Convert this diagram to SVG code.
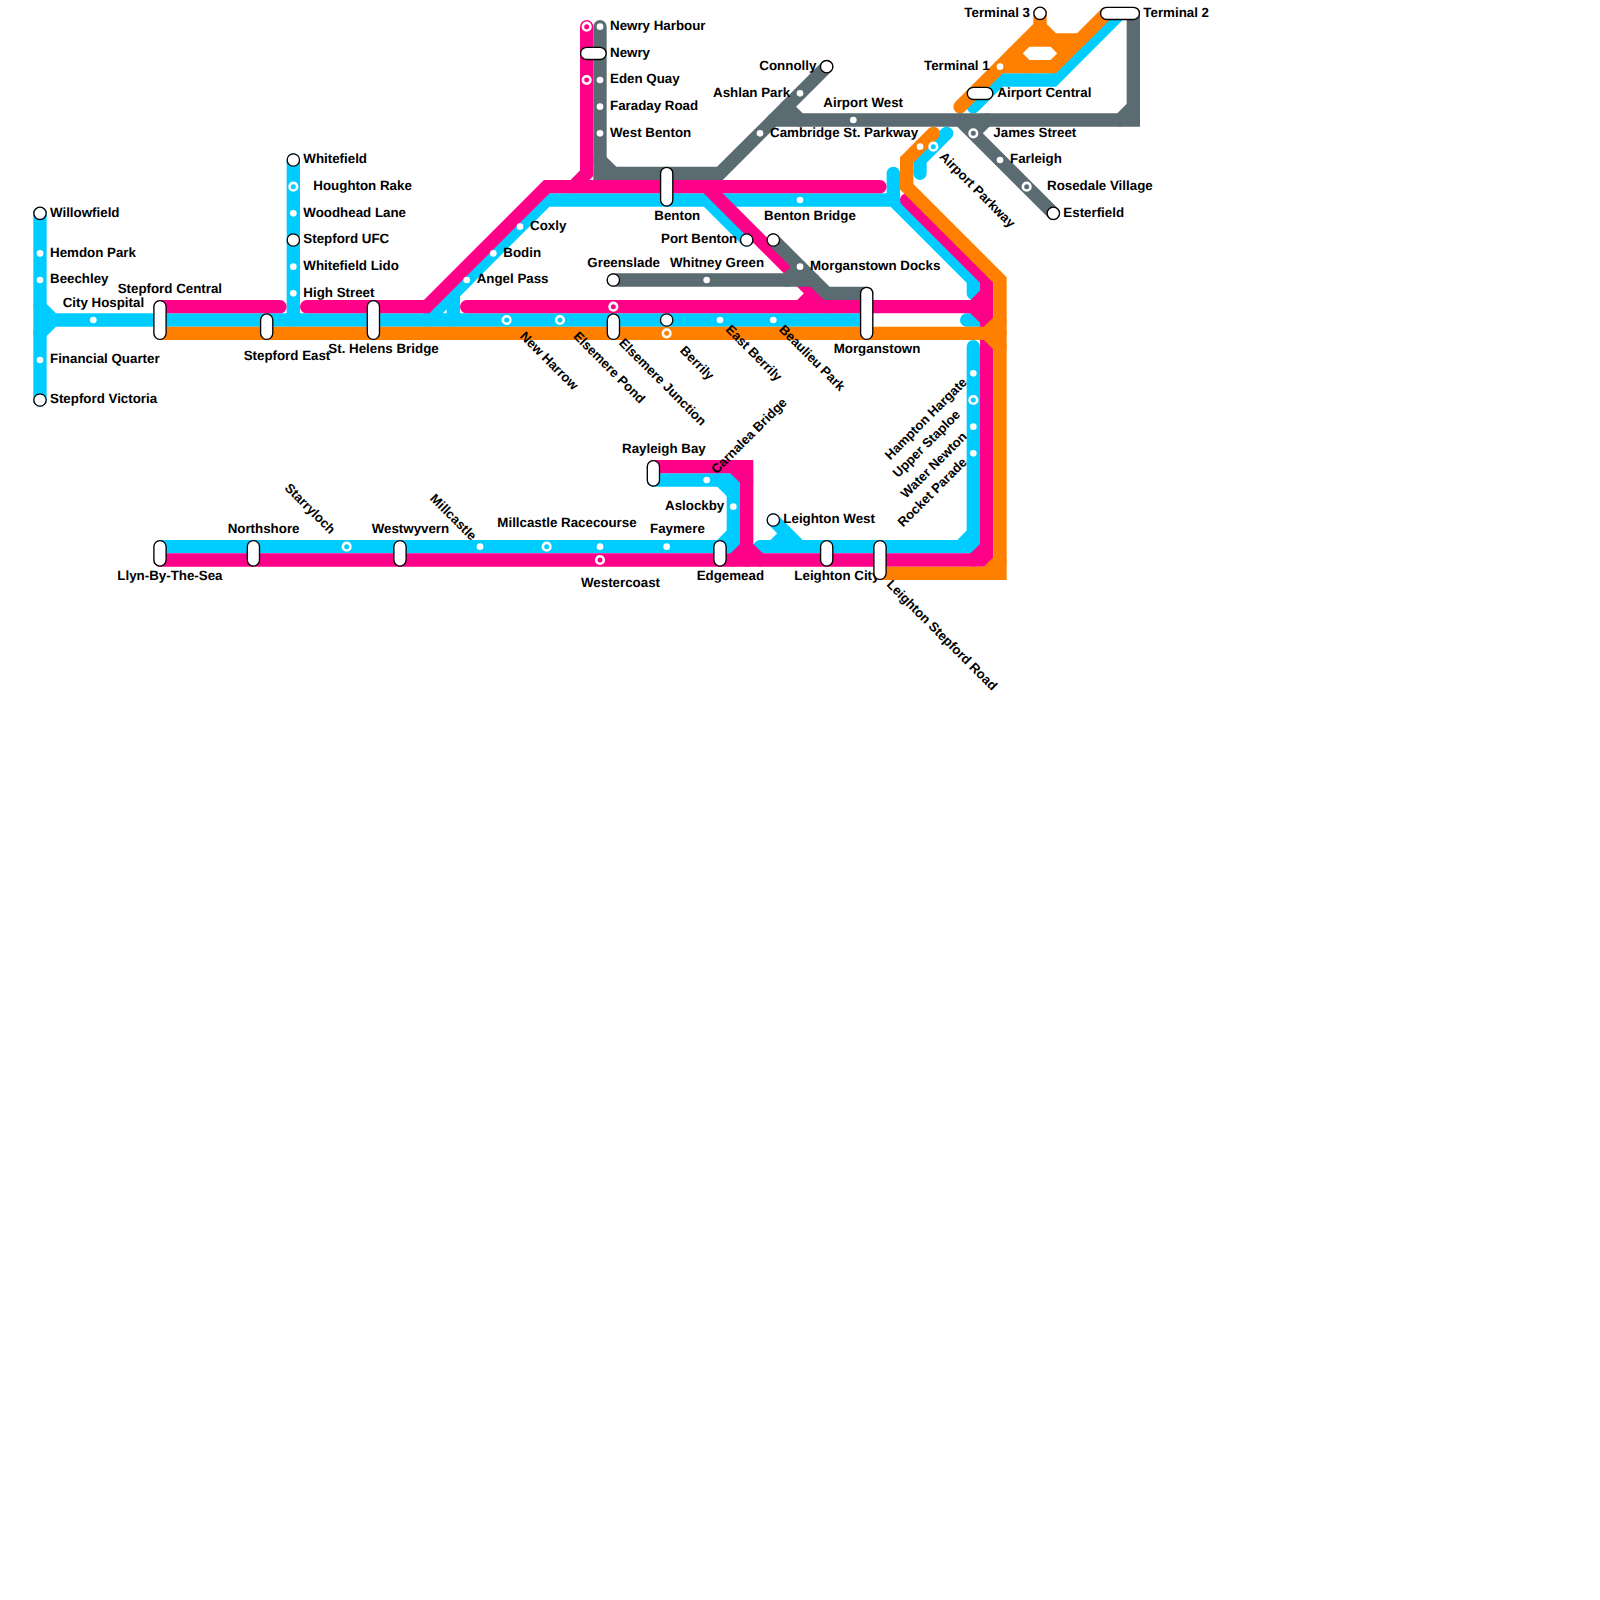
<svg xmlns="http://www.w3.org/2000/svg" width="1600" height="1600" viewBox="0 0 1600 1600">
<style>
.l{fill:none;stroke-width:13.33;stroke-linecap:round;stroke-linejoin:miter;stroke-miterlimit:10}
.c{stroke:#00ccff}.p{stroke:#ff0088}.o{stroke:#ff8000}.g{stroke:#5a6b72}
.d{fill:#fff}
.r{stroke:#fff;stroke-width:2.6}
.rc{fill:#00ccff}.rp{fill:#ff0088}.ro{fill:#ff8000}.rg{fill:#5a6b72}
.e{fill:#fff;stroke:#000;stroke-width:1.33}
text{font-family:"Liberation Sans",Arial,sans-serif;font-size:13.33px;font-weight:bold;fill:#000;text-rendering:geometricPrecision}
text.t{font-size:13.15px}
</style>
<rect width="1600" height="1600" fill="#fff"/>
<g id="connectors">
<g id="line-cyan">
<path class="l c" d="M40 213.33V400"/>
<path class="l c" d="M40 306.67L53.33 320L40 333.33"/>
<path class="l c" d="M53.33 320H866.67"/>
<path class="l c" d="M293.33 160V320"/>
<path class="l c" d="M426.67 320L546.67 200H706.67L746.67 240"/>
<path class="l c" d="M453.33 320V293.33L466.67 280"/>
<path class="l c" d="M706.67 200H893.33L973.33 280V293.33"/>
<path class="l c" d="M893.33 173.33V200"/>
<path class="l c" d="M920 173.33V160L946.67 133.33"/>
<path class="l c" d="M973.33 106.67L1000 80H1053.33L1120 13.33"/>
<path class="l c" d="M966.67 320H980"/>
<path class="l c" d="M160 546.67H733.33V480H653.33"/>
<path class="l c" d="M720 546.67L733.33 533.33M720 480L733.33 493.33"/>
<path class="l c" d="M973.33 346.67V546.67H760"/>
<path class="l c" d="M973.33 533.33L960 546.67"/>
<path class="l c" d="M773.33 520L800 546.67M786.67 533.33L773.33 546.67"/>
</g>
<g id="line-pink">
<path class="l p" d="M160 306.67H280"/>
<path class="l p" d="M306.67 306.67H426.67L546.67 186.67H880"/>
<path class="l p" d="M586.67 26.67V173.33L573.33 186.67"/>
<path class="l p" d="M706.67 186.67L826.67 306.67"/>
<path class="l p" d="M800 306.67L813.33 293.33"/>
<path class="l p" d="M466.67 306.67H973.33L986.67 320"/>
<path class="l p" d="M986.67 293.33L973.33 306.67"/>
<path class="l p" d="M906.67 200L986.67 280V560H160"/>
<path class="l p" d="M973.33 560L986.67 546.67"/>
<path class="l p" d="M653.33 466.67H746.67V560"/>
<path class="l p" d="M733.33 466.67L746.67 480M746.67 546.67L733.33 560M746.67 546.67L760 560"/>
</g>
<g id="line-orange">
<path class="l o" d="M160 333.33H1000"/>
<path class="l o" d="M880 573.33H1000V280L906.67 186.67V160L933.33 133.33"/>
<path class="l o" d="M986.67 333.33L1000 346.67M1000 320L986.67 333.33M1000 560L986.67 573.33"/>
<path class="l o" d="M960 106.67L1040 26.67V13.33"/>
<path class="l o" d="M1026.67 40H1080L1106.67 13.33"/>
<path class="l o" d="M1040 26.67L1053.33 40L1066.67 53.33"/>
<path class="l o" d="M1000 66.67H1053.33L1106.67 13.33"/>
<path class="l o" d="M1013.33 53.33L1026.67 66.67"/>
</g>
<g id="line-grey">
<path class="l g" d="M600 26.67V173.33H720L826.67 66.67"/>
<path class="l g" d="M600 160L613.33 173.33"/>
<path class="l g" d="M773.33 120H1133.33V13.33"/>
<path class="l g" d="M786.67 106.67L800 120M1120 120L1133.33 106.67"/>
<path class="l g" d="M960 120L1053.33 213.33M986.67 120L973.33 133.33"/>
<path class="l g" d="M613.33 280H813.33"/>
<path class="l g" d="M786.67 280L800 266.67"/>
<path class="l g" d="M773.33 240L826.67 293.33H866.67"/>
</g>
</g>
<g id="nodes">
<g id="n-willowfield"><circle class="e" cx="40" cy="213.33" r="6.2"/><text x="50" y="216.67">Willowfield</text></g>
<g id="n-hemdon-park"><circle class="d" cx="40" cy="253.33" r="3.33"/><text x="50" y="256.67">Hemdon Park</text></g>
<g id="n-beechley"><circle class="d" cx="40" cy="280" r="3.33"/><text x="50" y="283.33">Beechley</text></g>
<g id="n-financial-quarter"><circle class="d" cx="40" cy="360" r="3.33"/><text x="50" y="363.33">Financial Quarter</text></g>
<g id="n-stepford-victoria"><circle class="e" cx="40" cy="400" r="6.2"/><text x="50" y="403.33">Stepford Victoria</text></g>
<g id="n-city-hospital"><circle class="d" cx="93.33" cy="320" r="3.33"/><text x="62.67" y="306.67">City Hospital</text></g>
<g id="n-stepford-central"><rect class="e" x="153.9" y="300.6" width="12.2" height="38.8" rx="6.1"/><text x="117.67" y="293.33">Stepford Central</text></g>
<g id="n-stepford-east"><rect class="e" x="260.6" y="313.9" width="12.2" height="25.5" rx="6.1"/><text x="243.67" y="360">Stepford East</text></g>
<g id="n-st-helens-bridge"><rect class="e" x="367.3" y="300.6" width="12.2" height="38.8" rx="6.1"/><text x="328.33" y="353.33">St. Helens Bridge</text></g>
<g id="n-whitefield"><circle class="e" cx="293.33" cy="160" r="6.2"/><text x="303.33" y="163.33">Whitefield</text></g>
<g id="n-houghton-rake"><circle class="r rc" cx="293.33" cy="186.67" r="3.8"/><text x="313.33" y="190">Houghton Rake</text></g>
<g id="n-woodhead-lane"><circle class="d" cx="293.33" cy="213.33" r="3.33"/><text x="303.33" y="216.67">Woodhead Lane</text></g>
<g id="n-stepford-ufc"><circle class="e" cx="293.33" cy="240" r="6.2"/><text x="303.33" y="243.33">Stepford UFC</text></g>
<g id="n-whitefield-lido"><circle class="d" cx="293.33" cy="266.67" r="3.33"/><text x="303.33" y="270">Whitefield Lido</text></g>
<g id="n-high-street"><circle class="d" cx="293.33" cy="293.33" r="3.33"/><text x="303.33" y="296.67">High Street</text></g>
<g id="n-angel-pass"><circle class="d" cx="466.67" cy="280" r="3.33"/><text x="476.67" y="283.33">Angel Pass</text></g>
<g id="n-bodin"><circle class="d" cx="493.33" cy="253.33" r="3.33"/><text x="503.33" y="256.67">Bodin</text></g>
<g id="n-coxly"><circle class="d" cx="520" cy="226.67" r="3.33"/><text x="530" y="230">Coxly</text></g>
<g id="n-new-harrow"><circle class="r rc" cx="506.67" cy="320" r="3.8"/><text class="t" x="519.3" y="337" transform="rotate(45 519.3 337)">New Harrow</text></g>
<g id="n-elsemere-pond"><circle class="r rc" cx="560" cy="320" r="3.8"/><text class="t" x="572.67" y="337" transform="rotate(45 572.67 337)">Elsemere Pond</text></g>
<g id="n-elsemere-junction"><circle class="r rp" cx="613.33" cy="306.67" r="3.8"/><rect class="e" x="607.3" y="313.9" width="12.2" height="25.5" rx="6.1"/><text class="t" x="618.3" y="343.7" transform="rotate(45 618.3 343.7)">Elsemere Junction</text></g>
<g id="n-berrily"><circle class="e" cx="666.67" cy="320" r="6.2"/><circle class="r ro" cx="666.67" cy="333.33" r="3.8"/><text class="t" x="679.3" y="351.3" transform="rotate(45 679.3 351.3)">Berrily</text></g>
<g id="n-east-berrily"><circle class="d" cx="720" cy="320" r="3.33"/><text class="t" x="725" y="330.3" transform="rotate(45 725 330.3)">East Berrily</text></g>
<g id="n-beaulieu-park"><circle class="d" cx="773.33" cy="320" r="3.33"/><text class="t" x="778.3" y="330.3" transform="rotate(45 778.3 330.3)">Beaulieu Park</text></g>
<g id="n-morganstown"><rect class="e" x="860.6" y="287.3" width="12.2" height="52.1" rx="6.1"/><text x="833.67" y="353.33">Morganstown</text></g>
<g id="n-newry-harbour"><circle class="r rp" cx="586.67" cy="26.67" r="3.8"/><circle class="d" cx="600" cy="26.67" r="3.33"/><text x="610" y="30">Newry Harbour</text></g>
<g id="n-newry"><rect class="e" x="580.6" y="47.3" width="25.5" height="12.2" rx="6.1"/><text x="610" y="56.67">Newry</text></g>
<g id="n-eden-quay"><circle class="r rp" cx="586.67" cy="80" r="3.8"/><circle class="d" cx="600" cy="80" r="3.33"/><text x="610" y="83.33">Eden Quay</text></g>
<g id="n-faraday-road"><circle class="d" cx="600" cy="106.67" r="3.33"/><text x="610" y="110">Faraday Road</text></g>
<g id="n-west-benton"><circle class="d" cx="600" cy="133.33" r="3.33"/><text x="610" y="136.67">West Benton</text></g>
<g id="n-benton"><rect class="e" x="660.6" y="167.3" width="12.2" height="38.8" rx="6.1"/><text x="654.33" y="220">Benton</text></g>
<g id="n-benton-bridge"><circle class="d" cx="800" cy="200" r="3.33"/><text x="764" y="220">Benton Bridge</text></g>
<g id="n-port-benton"><circle class="e" cx="746.67" cy="240" r="6.2"/><text x="661" y="243.33">Port Benton</text></g>
<g id="n-morganstown-docks-terminus"><circle class="e" cx="773.33" cy="240" r="6.2"/></g>
<g id="n-morganstown-docks"><circle class="d" cx="800" cy="266.67" r="3.33"/><text x="810" y="270">Morganstown Docks</text></g>
<g id="n-greenslade"><circle class="e" cx="613.33" cy="280" r="6.2"/><text x="587.33" y="266.67">Greenslade</text></g>
<g id="n-whitney-green"><circle class="d" cx="706.67" cy="280" r="3.33"/><text x="670" y="266.67">Whitney Green</text></g>
<g id="n-connolly"><circle class="e" cx="826.67" cy="66.67" r="6.2"/><text x="759.33" y="70">Connolly</text></g>
<g id="n-ashlan-park"><circle class="d" cx="800" cy="93.33" r="3.33"/><text x="713" y="96.67">Ashlan Park</text></g>
<g id="n-cambridge-st-parkway"><circle class="d" cx="760" cy="133.33" r="3.33"/><text x="770" y="136.67">Cambridge St. Parkway</text></g>
<g id="n-airport-west"><circle class="d" cx="853.33" cy="120" r="3.33"/><text x="823.33" y="106.67">Airport West</text></g>
<g id="n-airport-parkway"><circle class="d" cx="920" cy="146.67" r="3.33"/><circle class="r rc" cx="933.33" cy="146.67" r="3.8"/><text class="t" x="938.67" y="157.2" transform="rotate(45 938.67 157.2)">Airport Parkway</text></g>
<g id="n-james-street"><circle class="r rg" cx="973.33" cy="133.33" r="3.8"/><text x="993.33" y="136.67">James Street</text></g>
<g id="n-farleigh"><circle class="d" cx="1000" cy="160" r="3.33"/><text x="1010" y="163.33">Farleigh</text></g>
<g id="n-rosedale-village"><circle class="r rg" cx="1026.67" cy="186.67" r="3.8"/><text x="1047" y="190">Rosedale Village</text></g>
<g id="n-esterfield"><circle class="e" cx="1053.33" cy="213.33" r="6.2"/><text x="1063.33" y="216.67">Esterfield</text></g>
<g id="n-airport-central"><rect class="e" x="967.3" y="87.3" width="25.5" height="12.2" rx="6.1"/><text x="997.33" y="96.67">Airport Central</text></g>
<g id="n-terminal-1"><circle class="d" cx="1000" cy="66.67" r="3.33"/><text x="924" y="70">Terminal 1</text></g>
<g id="n-terminal-3"><circle class="e" cx="1040" cy="13.33" r="6.2"/><text x="964.33" y="16.67">Terminal 3</text></g>
<g id="n-terminal-2"><rect class="e" x="1100.6" y="7.3" width="38.8" height="12.2" rx="6.1"/><text x="1143.33" y="16.67">Terminal 2</text></g>
<g id="n-hampton-hargate"><circle class="d" cx="973.33" cy="373.33" r="3.33"/><text class="t" x="967.67" y="383" text-anchor="end" transform="rotate(-45 967.67 383)">Hampton Hargate</text></g>
<g id="n-upper-staploe"><circle class="r rc" cx="973.33" cy="400" r="3.8"/><text class="t" x="961" y="415.3" text-anchor="end" transform="rotate(-45 961 415.3)">Upper Staploe</text></g>
<g id="n-water-newton"><circle class="d" cx="973.33" cy="426.67" r="3.33"/><text class="t" x="967.67" y="437.3" text-anchor="end" transform="rotate(-45 967.67 437.3)">Water Newton</text></g>
<g id="n-rocket-parade"><circle class="d" cx="973.33" cy="453.33" r="3.33"/><text class="t" x="967.67" y="463" text-anchor="end" transform="rotate(-45 967.67 463)">Rocket Parade</text></g>
<g id="n-rayleigh-bay"><rect class="e" x="647.3" y="460.6" width="12.2" height="25.5" rx="6.1"/><text x="622" y="453.33">Rayleigh Bay</text></g>
<g id="n-carnalea-bridge"><circle class="d" cx="706.67" cy="480" r="3.33"/><text class="t" x="716.5" y="474.5" transform="rotate(-45 716.5 474.5)">Carnalea Bridge</text></g>
<g id="n-aslockby"><circle class="d" cx="733.33" cy="506.67" r="3.33"/><text x="665" y="510">Aslockby</text></g>
<g id="n-llyn-by-the-sea"><rect class="e" x="153.9" y="540.6" width="12.2" height="25.5" rx="6.1"/><text x="117.33" y="580">Llyn-By-The-Sea</text></g>
<g id="n-northshore"><rect class="e" x="247.3" y="540.6" width="12.2" height="25.5" rx="6.1"/><text x="227.67" y="533.33">Northshore</text></g>
<g id="n-starryloch"><circle class="r rc" cx="346.67" cy="546.67" r="3.8"/><text class="t" x="284" y="488.67" transform="rotate(45 284 488.67)">Starryloch</text></g>
<g id="n-westwyvern"><rect class="e" x="393.9" y="540.6" width="12.2" height="25.5" rx="6.1"/><text x="371.67" y="533.33">Westwyvern</text></g>
<g id="n-millcastle"><circle class="d" cx="480" cy="546.67" r="3.33"/><text class="t" x="429.33" y="499.33" transform="rotate(45 429.33 499.33)">Millcastle</text></g>
<g id="n-millcastle-racecourse"><circle class="r rc" cx="546.67" cy="546.67" r="3.8"/><text x="497.33" y="526.67">Millcastle Racecourse</text></g>
<g id="n-westercoast"><circle class="d" cx="600" cy="546.67" r="3.33"/><circle class="r rp" cx="600" cy="560" r="3.8"/><text x="581" y="586.67">Westercoast</text></g>
<g id="n-faymere"><circle class="d" cx="666.67" cy="546.67" r="3.33"/><text x="650" y="533.33">Faymere</text></g>
<g id="n-edgemead"><rect class="e" x="713.9" y="540.6" width="12.2" height="25.5" rx="6.1"/><text x="696.67" y="580">Edgemead</text></g>
<g id="n-leighton-west"><circle class="e" cx="773.33" cy="520" r="6.2"/><text x="783.33" y="523.33">Leighton West</text></g>
<g id="n-leighton-city"><rect class="e" x="820.6" y="540.6" width="12.2" height="25.5" rx="6.1"/><text x="794.33" y="580">Leighton City</text></g>
<g id="n-leighton-stepford-road"><rect class="e" x="873.9" y="540.6" width="12.2" height="38.8" rx="6.1"/><text class="t" x="886" y="585.3" transform="rotate(45 886 585.3)">Leighton Stepford Road</text></g>
</g>
</svg>
